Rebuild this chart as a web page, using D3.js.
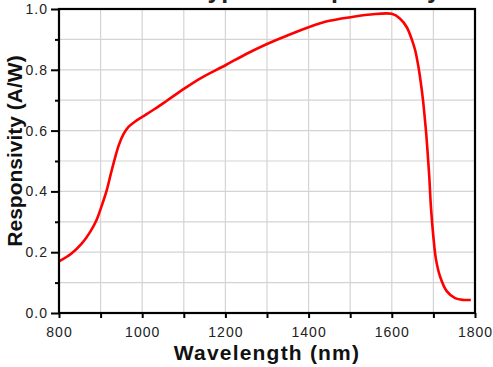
<!DOCTYPE html>
<html>
<head>
<meta charset="utf-8">
<script src="https://cdn.jsdelivr.net/npm/d3@7"></script>
<style>
  html, body { margin: 0; padding: 0; background: #fff; }
  svg { display: block; }
</style>
</head>
<body>
<svg id="chart" width="493" height="367"></svg>
<script>
// ---- data ----
const chartTitle = "Typical Responsivity";
const xLabel = "Wavelength (nm)";
const yLabel = "Responsivity (A/W)";
const wavelengths = [800, 830, 855, 875, 890, 902, 915, 925, 935, 944, 955, 967, 983, 1000, 1030, 1060, 1100, 1140, 1200, 1250, 1300, 1355, 1400, 1450, 1500, 1550, 1600, 1620, 1636, 1648, 1656, 1664, 1670, 1675, 1679, 1683, 1687, 1690, 1694, 1700, 1706, 1716, 1732, 1752, 1772, 1790];
const responsivity = [0.170, 0.196, 0.229, 0.267, 0.305, 0.350, 0.405, 0.460, 0.512, 0.553, 0.588, 0.612, 0.630, 0.645, 0.671, 0.699, 0.737, 0.772, 0.815, 0.852, 0.885, 0.916, 0.940, 0.961, 0.973, 0.982, 0.984, 0.968, 0.940, 0.900, 0.865, 0.810, 0.755, 0.700, 0.645, 0.585, 0.510, 0.450, 0.350, 0.250, 0.178, 0.120, 0.072, 0.049, 0.043, 0.043];
const xTicks = [800, 1000, 1200, 1400, 1600, 1800];
const xMinorTicks = [900, 1100, 1300, 1500, 1700];
const yTicks = [0.0, 0.2, 0.4, 0.6, 0.8, 1.0];
const yMinorTicks = [0.1, 0.3, 0.5, 0.7, 0.9];
const xGrid = [900, 1000, 1100, 1200, 1300, 1400, 1500, 1600, 1700];
const yGrid = [0.1, 0.2, 0.3, 0.4, 0.5, 0.6, 0.7, 0.8, 0.9];

// ---- layout ----
const W = 493, H = 367;
const m = { left: 59, right: 18, top: 9, bottom: 54 };
const iw = W - m.left - m.right, ih = H - m.top - m.bottom;

const svg = d3.select("#chart");
const x = d3.scaleLinear().domain([800, 1800]).range([m.left, m.left + iw]);
const y = d3.scaleLinear().domain([0, 1]).range([m.top + ih, m.top]);

// grid
svg.append("g").selectAll("line").data(xGrid).join("line")
  .attr("x1", d => x(d)).attr("x2", d => x(d))
  .attr("y1", m.top).attr("y2", m.top + ih)
  .attr("stroke", "#d4d4d4").attr("stroke-width", 1.2);
svg.append("g").selectAll("line").data(yGrid).join("line")
  .attr("y1", d => y(d)).attr("y2", d => y(d))
  .attr("x1", m.left).attr("x2", m.left + iw)
  .attr("stroke", "#d4d4d4").attr("stroke-width", 1.2);

// title (partially clipped at top, as in the reference)
svg.append("text")
  .attr("x", 194).attr("y", -2)
  .attr("font-family", "Liberation Sans, Arial, sans-serif")
  .attr("font-weight", "bold").attr("font-size", 25)
  .attr("fill", "#222")
  .text(chartTitle);

// line
const line = d3.line()
  .x((d, i) => x(wavelengths[i]))
  .y((d, i) => y(responsivity[i]))
  .curve(d3.curveCatmullRom.alpha(0.5));
svg.append("path")
  .datum(wavelengths)
  .attr("d", line)
  .attr("fill", "none")
  .attr("stroke", "#ff0000")
  .attr("stroke-width", 2.6)
  .attr("stroke-linejoin", "round");

// axes
function styleAxis(g) {
  g.select(".domain").remove();
  g.selectAll(".tick line").attr("stroke", "#000").attr("stroke-width", 2);
  g.selectAll(".tick text")
    .attr("font-family", "Liberation Sans, Arial, sans-serif")
    .attr("font-size", 14)
    .attr("letter-spacing", "1px")
    .attr("fill", "#222");
}
const gx = svg.append("g").attr("transform", `translate(0,${m.top + ih})`)
  .call(d3.axisBottom(x).tickValues(xTicks).tickSize(5).tickPadding(9).tickFormat(d3.format("d")));
styleAxis(gx);
const gxm = svg.append("g").attr("transform", `translate(0,${m.top + ih})`)
  .call(d3.axisBottom(x).tickValues(xMinorTicks).tickSize(5).tickFormat(""));
styleAxis(gxm);

const gy = svg.append("g").attr("transform", `translate(${m.left},0)`)
  .call(d3.axisLeft(y).tickValues(yTicks).tickSize(8).tickPadding(3).tickFormat(d3.format(".1f")));
styleAxis(gy);
const gym = svg.append("g").attr("transform", `translate(${m.left},0)`)
  .call(d3.axisLeft(y).tickValues(yMinorTicks).tickSize(4).tickFormat(""));
styleAxis(gym);

// frame
svg.append("rect")
  .attr("x", m.left).attr("y", m.top).attr("width", iw).attr("height", ih)
  .attr("fill", "none").attr("stroke", "#000").attr("stroke-width", 2.2);

// axis titles
svg.append("text")
  .attr("x", m.left + iw / 2).attr("y", 360)
  .attr("text-anchor", "middle")
  .attr("font-family", "Liberation Sans, Arial, sans-serif")
  .attr("font-weight", "bold").attr("font-size", 21)
  .attr("letter-spacing", "1.2px")
  .attr("fill", "#111")
  .text(xLabel);
svg.append("text")
  .attr("transform", `translate(22,151) rotate(-90)`)
  .attr("text-anchor", "middle")
  .attr("font-family", "Liberation Sans, Arial, sans-serif")
  .attr("font-weight", "bold").attr("font-size", 21)
  .attr("fill", "#111")
  .text(yLabel);
</script>
</body>
</html>
